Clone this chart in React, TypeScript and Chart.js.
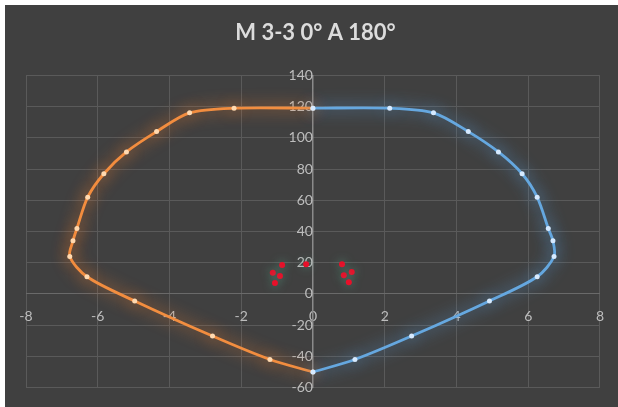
import React, { useEffect, useRef } from "react";
import { Chart, registerables } from "chart.js";

Chart.register(...registerables);

const titleText = "M 3-3 0° A 180°";

const leftX = [0, -2.2, -3.44, -4.36, -5.2, -5.83, -6.28, -6.58, -6.69, -6.78, -6.3, -4.97, -2.8, -1.2, 0];
const leftY = [119, 119, 116, 104, 91, 77, 62, 42, 34, 24, 11, -4.5, -27, -42, -50];

const rightX = [0, 2.14, 3.36, 4.33, 5.17, 5.83, 6.25, 6.56, 6.69, 6.72, 6.25, 4.92, 2.75, 1.17, 0];
const rightY = [119, 119, 116, 104, 91, 77, 62, 42, 34, 24, 11, -4.5, -27, -42, -50];

const redX = [-0.86, -1.12, -0.92, -1.06, -0.19, 0.81, 1.08, 0.86, 1.0];
const redY = [18.5, 13.5, 11.5, 7, 19, 19, 14, 12, 7.5];

const xMin = -8, xMax = 8, xStep = 2;
const yMin = -60, yMax = 140, yStep = 20;

const toPts = (xs: number[], ys: number[]) => xs.map((x, i) => ({ x, y: ys[i] }));

const glowPlugin = {
  id: "glow",
  beforeDatasetDraw(chart: any, args: any) {
    const ds = chart.data.datasets[args.index] as any;
    const ctx = chart.ctx;
    ctx.save();
    if (ds.glowColor) {
      ctx.shadowColor = ds.glowColor;
      ctx.shadowBlur = ds.glowBlur || 10;
    }
  },
  afterDatasetDraw(chart: any) {
    chart.ctx.restore();
  },
};

export default function App() {
  const ref = useRef<HTMLCanvasElement | null>(null);

  useEffect(() => {
    if (!ref.current) return;
    const chart = new Chart(ref.current, {
      type: "scatter",
      data: {
        datasets: [
          {
            data: toPts(rightX, rightY),
            showLine: true,
            borderColor: "#66a8e0",
            borderWidth: 2.8,
            tension: 0.3,
            pointRadius: 2.5,
            pointBackgroundColor: "#d6eaff",
            pointBorderWidth: 0,
            glowColor: "rgba(91,155,213,1)",
            glowBlur: 16,
          } as any,
          {
            data: toPts(leftX, leftY),
            showLine: true,
            borderColor: "#f28e40",
            borderWidth: 2.8,
            tension: 0.3,
            pointRadius: 2.5,
            pointBackgroundColor: "#ffd9b0",
            pointBorderWidth: 0,
            glowColor: "rgba(237,125,49,1)",
            glowBlur: 16,
          } as any,
          {
            data: toPts(redX, redY),
            showLine: false,
            pointRadius: 3,
            pointBackgroundColor: "#e8102a",
            pointBorderWidth: 0,
            glowColor: "rgba(90,170,140,0.8)",
            glowBlur: 10,
          } as any,
        ],
      },
      options: {
        animation: false,
        responsive: false,
        layout: { padding: { left: 21, right: 13, top: 0, bottom: 13 } },
        plugins: {
          legend: { display: false },
          tooltip: { enabled: false },
          title: {
            display: true,
            text: titleText,
            color: "#dcdcdc",
            font: { family: "Lato", size: 22, weight: "bold" },
            padding: { top: 15, bottom: 29 },
          },
        },
        scales: {
          x: {
            type: "linear",
            position: { y: 0 } as any,
            min: xMin,
            max: xMax,
            ticks: {
              stepSize: xStep,
              color: "#bdbdbd",
              font: { family: "Lato", size: 14 },
              padding: 14,
            },
            grid: { color: "#5a5a5a", lineWidth: 1, drawTicks: false },
            border: { color: "#6a6a6a", width: 1 },
          },
          y: {
            type: "linear",
            position: { x: 0 } as any,
            min: yMin,
            max: yMax,
            ticks: {
              stepSize: yStep,
              color: "#bdbdbd",
              font: { family: "Lato", size: 14 },
              padding: 11,
            },
            grid: { color: "#5a5a5a", lineWidth: 1, drawTicks: false },
            border: { color: "#8a8a8a", width: 1.5 },
          },
        },
      },
      plugins: [glowPlugin],
    });
    return () => chart.destroy();
  }, []);

  return (
    <div style={{ position: "fixed", left: 0, top: 0, width: 618, height: 407, background: "#ffffff" }}>
      <div style={{ position: "absolute", left: 5, top: 5, width: 613, height: 402, background: "#404040" }}>
        <canvas ref={ref} width={613} height={402} style={{ display: "block" }} />
      </div>
    </div>
  );
}
